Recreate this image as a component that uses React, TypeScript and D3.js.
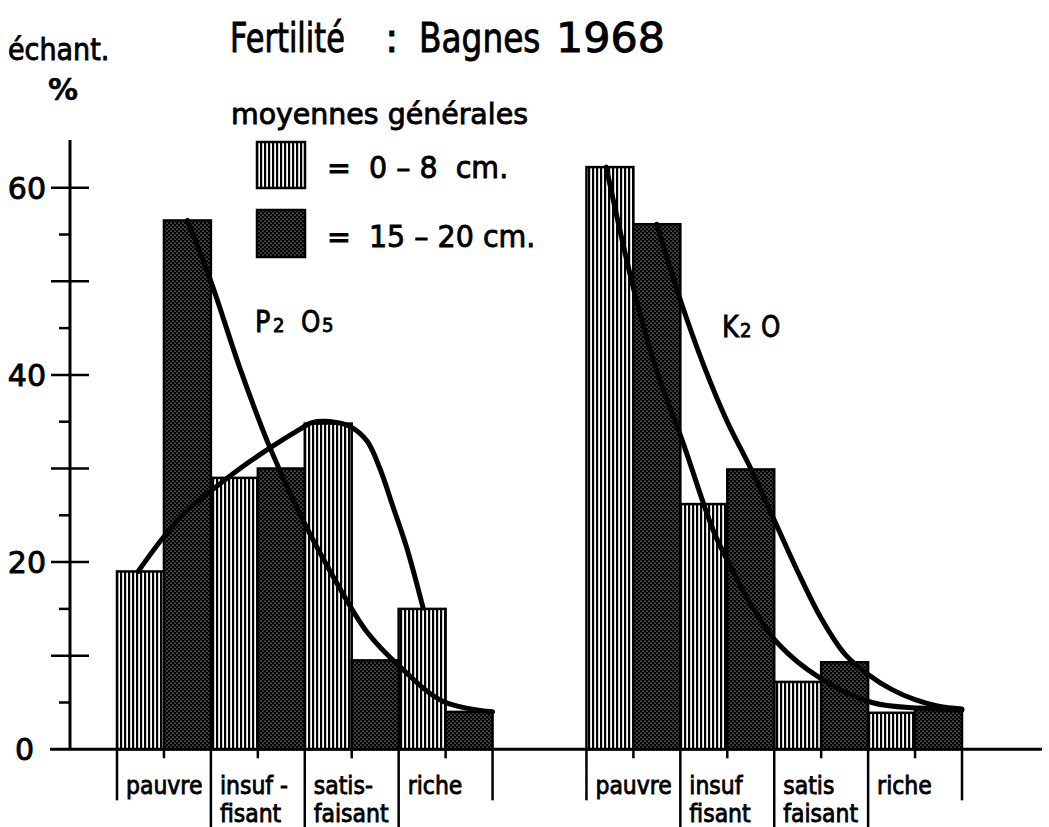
import React from "react";
import * as d3 from "d3";

const W = 1049;
const H = 827;

// ---- data ----
const labelsP2O5 = [["pauvre"], ["insuf -", "fisant"], ["satis-", "faisant"], ["riche"]];
const labelsK2O = [["pauvre"], ["insuf", "fisant"], ["satis", "faisant"], ["riche"]];
const p2o5Shallow = [19, 29, 34.8, 15];
const p2o5Deep = [56.5, 30, 9.5, 4];
const k2oShallow = [62.2, 26.2, 7.2, 3.9];
const k2oDeep = [56.1, 29.9, 9.3, 4.2];

const yLabelTicks = [0, 20, 40, 60];
const yTenTicks = [10, 20, 30, 40, 50, 60];
const yFiveTicks = [5, 15, 25, 35, 45, 55];

// hand-drawn smoothing curves: [position in bar slots within group, value %]
const p2o5ShallowCurve: [number, number][] = [
  [0.45, 19.0], [0.98, 22.6], [1.49, 25.5], [2.05, 27.8], [2.62, 30.0], [3.26, 32.2],
  [3.9, 34.2], [4.15, 34.9], [4.7, 34.9], [5.0, 34.4], [5.33, 32.9], [5.6, 30.0],
  [5.88, 25.9], [6.18, 21.4], [6.52, 15.1],
];
const p2o5DeepCurve: [number, number][] = [
  [1.5, 56.5], [2.0, 50.0], [2.62, 40.7], [3.26, 32.2], [3.9, 25.1], [4.6, 18.5],
  [5.33, 12.5], [6.03, 8.8], [6.95, 5.1], [8.0, 4.0],
];
const k2oShallowCurve: [number, number][] = [
  [0.42, 62.2], [0.76, 54.4], [1.04, 48.5], [1.5, 40.4], [2.04, 33.0], [2.7, 23.4],
  [3.02, 20.0], [3.5, 15.5], [4.08, 11.3], [4.98, 7.6], [6.08, 5.0], [7.1, 4.4], [8.0, 4.2],
];
const k2oDeepCurve: [number, number][] = [
  [1.5, 56.1], [2.0, 48.0], [2.5, 41.0], [3.0, 35.0], [3.5, 30.0], [4.0, 24.5],
  [4.5, 19.0], [5.0, 14.0], [5.5, 10.2], [6.0, 8.0], [6.5, 6.4], [7.0, 5.3],
  [7.5, 4.6], [8.0, 4.3],
];

const groups = [
  { offset: 0, shallow: p2o5Shallow, deep: p2o5Deep, cS: p2o5ShallowCurve, cD: p2o5DeepCurve, labels: labelsP2O5 },
  { offset: 10, shallow: k2oShallow, deep: k2oDeep, cS: k2oShallowCurve, cD: k2oDeepCurve, labels: labelsK2O },
];

const FONT = "DejaVu Sans";

function T({ x, y, s = 26, sx = 0.83, anchor = "start", weight = "normal", sw = 0.9, children }: any) {
  return (
    <text
      transform={`translate(${x},${y}) scale(${sx},1)`}
      fontSize={s}
      fontFamily={FONT}
      fontWeight={weight}
      textAnchor={anchor}
      fill="#000"
      stroke="#000"
      strokeWidth={sw}
      style={{ whiteSpace: "pre" }}
    >
      {children}
    </text>
  );
}

export default function App() {
  const y = d3.scaleLinear().domain([0, 60]).range([749.3, 187.7]);
  const x = d3.scaleLinear().domain([0, 18]).range([117, 962]);
  const bw = x(1) - x(0);
  const y0 = y(0);

  const line = (off: number) =>
    d3
      .line<[number, number]>()
      .x((d) => x(off + d[0]))
      .y((d) => y(d[1]))
      .curve(d3.curveCatmullRom.alpha(0.5));

  return (
    <svg
      width={W}
      height={H}
      viewBox={`0 0 ${W} ${H}`}
      style={{ position: "absolute", left: 0, top: 0, background: "#fff" }}
    >
      <defs>
        <pattern id="stripes" patternUnits="userSpaceOnUse" width={4} height={8}>
          <rect width={4} height={8} fill="#fff" />
          <rect width={2.2} height={8} fill="#000" />
        </pattern>
        <pattern id="dots" patternUnits="userSpaceOnUse" width={4} height={4}>
          <rect width={4} height={4} fill="#000" />
          <circle cx={1} cy={1} r={0.6} fill="#fff" />
          <circle cx={3} cy={3} r={0.6} fill="#fff" />
        </pattern>
      </defs>
      <rect width={W} height={H} fill="#fff" />

      {/* title */}
      <T x={230} y={52} s={40} sx={0.76}>Fertilité</T>
      <T x={385} y={52} s={40} sx={1}>:</T>
      <T x={419} y={52} s={40} sx={0.82}>Bagnes</T>
      <T x={556} y={52} s={40} sx={1.07}>1968</T>

      {/* y axis title */}
      <T x={8} y={60} s={30} sx={0.9}>échant.</T>
      <T x={63} y={100} s={30} sx={1.0} anchor="middle" weight="bold" sw={0.4}>%</T>

      {/* legend */}
      <T x={231} y={124} s={29} sx={0.98}>moyennes générales</T>
      <rect x={257} y={142} width={48} height={46} fill="url(#stripes)" stroke="#000" strokeWidth={2.5} />
      <rect x={257} y={210} width={48} height={47} fill="url(#dots)" stroke="#000" strokeWidth={2.5} />
      <T x={327} y={178} s={30} sx={0.95}>{"=  0 – 8  cm."}</T>
      <T x={327} y={247} s={30} sx={0.95}>{"=  15 – 20 cm."}</T>

      {/* group names */}
      <T x={255} y={332} s={30} sx={0.85}>P</T>
      <T x={273} y={332} s={19} sx={0.95}>2</T>
      <T x={301} y={332} s={30} sx={0.82}>O</T>
      <T x={322} y={332} s={19} sx={0.95}>5</T>
      <T x={722} y={337} s={30} sx={0.85}>K</T>
      <T x={740} y={337} s={19} sx={0.95}>2</T>
      <T x={761} y={337} s={30} sx={0.82}>O</T>

      {/* bars */}
      {groups.map((g, gi) => (
        <g key={"bars" + gi}>
          {g.shallow.map((v, i) => (
            <rect
              key={"s" + i}
              x={x(g.offset + 2 * i)}
              y={y(v)}
              width={bw}
              height={y0 - y(v)}
              fill="url(#stripes)"
              stroke="#000"
              strokeWidth={2.5}
            />
          ))}
          {g.deep.map((v, i) => (
            <rect
              key={"d" + i}
              x={x(g.offset + 2 * i + 1)}
              y={y(v)}
              width={bw}
              height={y0 - y(v)}
              fill="url(#dots)"
              stroke="#000"
              strokeWidth={2.5}
            />
          ))}
        </g>
      ))}

      {/* curves */}
      {groups.map((g, gi) => (
        <g key={"curves" + gi} fill="none" stroke="#000" strokeWidth={5} strokeLinecap="round" strokeLinejoin="round">
          <path d={line(g.offset)(g.cS) || ""} />
          <path d={line(g.offset)(g.cD) || ""} />
        </g>
      ))}

      {/* y axis */}
      <line x1={70} x2={70} y1={140} y2={y0} stroke="#000" strokeWidth={3} />
      {yTenTicks.map((t) => (
        <line key={"t" + t} x1={51} x2={89} y1={y(t)} y2={y(t)} stroke="#000" strokeWidth={2.5} />
      ))}
      {yFiveTicks.map((t) => (
        <line key={"f" + t} x1={59} x2={70} y1={y(t)} y2={y(t)} stroke="#000" strokeWidth={2.5} />
      ))}
      {yLabelTicks.map((t) => (
        <text
          key={"l" + t}
          x={t === 0 ? 34 : 46}
          y={y(t)}
          dy="0.36em"
          fontSize={30}
          fontFamily={FONT}
          textAnchor="end"
          stroke="#000"
          strokeWidth={0.9}
        >
          {t}
        </text>
      ))}

      {/* baseline */}
      <line x1={50} x2={1042} y1={y0} y2={y0} stroke="#000" strokeWidth={3} />

      {/* category separators, ticks and labels */}
      {groups.map((g, gi) => (
        <g key={"cat" + gi}>
          {[0, 2, 4, 6, 8].map((s) => (
            <line
              key={"sep" + s}
              x1={x(g.offset + s)}
              x2={x(g.offset + s)}
              y1={y0}
              y2={s === 0 || s === 8 ? y0 + 51 : y0 + 78}
              stroke="#000"
              strokeWidth={2.5}
            />
          ))}
          {[1, 3, 5, 7].map((s) => (
            <line key={"tk" + s} x1={x(g.offset + s)} x2={x(g.offset + s)} y1={y0} y2={y0 + 9} stroke="#000" strokeWidth={2.5} />
          ))}
          {g.labels.map((lines, i) =>
            lines.map((txt, li) => (
              <T key={i + "-" + li} x={x(g.offset + 2 * i) + 9} y={794 + li * 28} s={25} sx={0.88}>
                {txt}
              </T>
            ))
          )}
        </g>
      ))}
    </svg>
  );
}
